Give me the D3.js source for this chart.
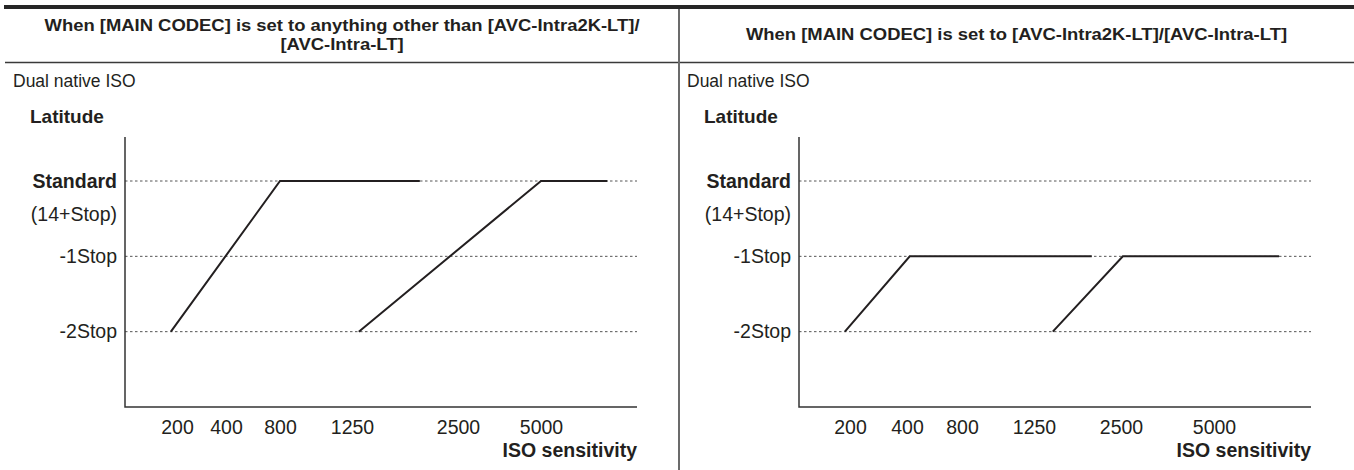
<!DOCTYPE html>
<html><head><meta charset="utf-8">
<script src="https://cdn.jsdelivr.net/npm/d3@7"></script>
<style>
body{margin:0;background:#fff;}
svg{display:block;font-family:"Liberation Sans",Arial,Helvetica,sans-serif;}
</style></head><body>
<svg id="c" width="1354" height="470"></svg>
<script>
// ---- data ----
const isoTicks = [200, 400, 800, 1250, 2500, 5000];
const isoTickLabels = ["200", "400", "800", "1250", "2500", "5000"];
const stopLevels = [0, -1, -2];
const stopLabels = ["Standard", "-1Stop", "-2Stop"];
const standardNote = "(14+Stop)";
const headerLeft = ["When [MAIN CODEC] is set to anything other than [AVC-Intra2K-LT]/", "[AVC-Intra-LT]"];
const headerRight = ["When [MAIN CODEC] is set to [AVC-Intra2K-LT]/[AVC-Intra-LT]"];
const panelTitle = "Dual native ISO";
const yTitle = "Latitude";
const xTitle = "ISO sensitivity";
const leftLowISO = [175, 800, 2050];
const leftLowStop = [-2, 0, 0];
const leftHighISO = [1330, 5000, 7000];
const leftHighStop = [-2, 0, 0];
const rightLowISO = [182, 420, 2080];
const rightLowStop = [-2, -1, -1];
const rightHighISO = [1520, 2550, 6750];
const rightHighStop = [-2, -1, -1];

// ---- layout ----
const svg = d3.select("#c");
const ink = "#231f20";
const panels = [
  {x0: 0, colL: 5, colR: 679, header: headerLeft, headerY: [31, 50],
   tickPos: [177, 226, 280, 352, 458, 541],
   series: [[leftLowISO, leftLowStop], [leftHighISO, leftHighStop]]},
  {x0: 674, colL: 679, colR: 1354, header: headerRight, headerY: [40],
   tickPos: [176, 233, 288, 360, 447, 540],
   series: [[rightLowISO, rightLowStop], [rightHighISO, rightHighStop]]}
];
const axisX = 125, plotRight = 637, axisTop = 137, axisBottomY = 407;
const y = d3.scaleLinear().domain([-3, 0]).range([axisBottomY, 181]);

// table frame
svg.append("rect").attr("x", 4).attr("y", 5).attr("width", 1350).attr("height", 4).attr("fill", "#262626");
svg.append("line").attr("x1", 5).attr("x2", 1354).attr("y1", 62.5).attr("y2", 62.5)
  .attr("stroke", "#3a3a3a").attr("stroke-width", 1.5);
svg.append("line").attr("x1", 679).attr("x2", 679).attr("y1", 9).attr("y2", 470)
  .attr("stroke", "#6b6b6b").attr("stroke-width", 2);

// headers (condensed bold)
const hdrSize = 17;
const probe = svg.append("text").attr("font-size", hdrSize).attr("font-weight", "bold").text(headerLeft[0]);
const natural0 = probe.node().getComputedTextLength();
probe.remove();
const condense = 595 / natural0;

panels.forEach(p => {
  const cx = (p.colL + p.colR) / 2;
  p.header.forEach((t, i) => {
    const tx = svg.append("text").attr("x", cx).attr("y", p.headerY[i])
      .attr("text-anchor", "middle").attr("font-size", hdrSize).attr("font-weight", "bold")
      .attr("fill", ink).text(t);
    const w = tx.node().getComputedTextLength();
    tx.attr("textLength", w * condense).attr("lengthAdjust", "spacingAndGlyphs");
  });

  const g = svg.append("g").attr("transform", `translate(${p.x0},0)`);
  const x = d3.scaleLinear().domain(isoTicks).range(p.tickPos);

  g.append("text").attr("x", 13).attr("y", 87).attr("font-size", 17.5).attr("fill", ink).text(panelTitle);
  g.append("text").attr("x", 30).attr("y", 123).attr("font-size", 19).attr("font-weight", "bold").attr("fill", ink).text(yTitle);

  // dotted level lines
  g.selectAll("line.grid").data(stopLevels).join("line").attr("class", "grid")
    .attr("x1", axisX).attr("x2", plotRight)
    .attr("y1", d => y(d)).attr("y2", d => y(d))
    .attr("stroke", "#555").attr("stroke-width", 1).attr("stroke-dasharray", "2.5,2.5");

  // y axis labels
  const ya = g.append("g").attr("transform", `translate(${axisX},0)`)
    .call(d3.axisLeft(y).tickValues(stopLevels).tickFormat((d, i) => stopLabels[i]).tickSize(0).tickPadding(8));
  ya.select(".domain").remove();
  ya.selectAll("text").attr("font-size", 19.5).attr("font-family", null).attr("fill", ink)
    .attr("font-weight", d => d === 0 ? "bold" : "normal");
  g.append("text").attr("x", axisX - 8).attr("y", y(-0.45)).attr("dy", "0.32em")
    .attr("text-anchor", "end").attr("font-size", 19.5).attr("fill", ink).text(standardNote);

  // x axis labels
  const xa = g.append("g").attr("transform", `translate(0,${axisBottomY})`)
    .call(d3.axisBottom(x).tickValues(isoTicks).tickFormat((d, i) => isoTickLabels[i]).tickSize(0).tickPadding(13));
  xa.select(".domain").remove();
  xa.selectAll("text").attr("font-size", 19.5).attr("font-family", null).attr("fill", ink);
  g.append("text").attr("x", plotRight).attr("y", 457).attr("text-anchor", "end")
    .attr("font-size", 19.5).attr("font-weight", "bold").attr("fill", ink).text(xTitle);

  // axis lines
  g.append("path").attr("d", `M${axisX},${axisTop}V${axisBottomY}H${plotRight}`)
    .attr("fill", "none").attr("stroke", "#333").attr("stroke-width", 1.5);

  // series
  const line = d3.line().x(d => x(d[0])).y(d => y(d[1]));
  p.series.forEach(([isos, stops]) => {
    g.append("path").datum(isos.map((v, i) => [v, stops[i]]))
      .attr("d", line).attr("fill", "none").attr("stroke", ink).attr("stroke-width", 2)
      .attr("stroke-linejoin", "miter");
  });
});
</script>
</body></html>
